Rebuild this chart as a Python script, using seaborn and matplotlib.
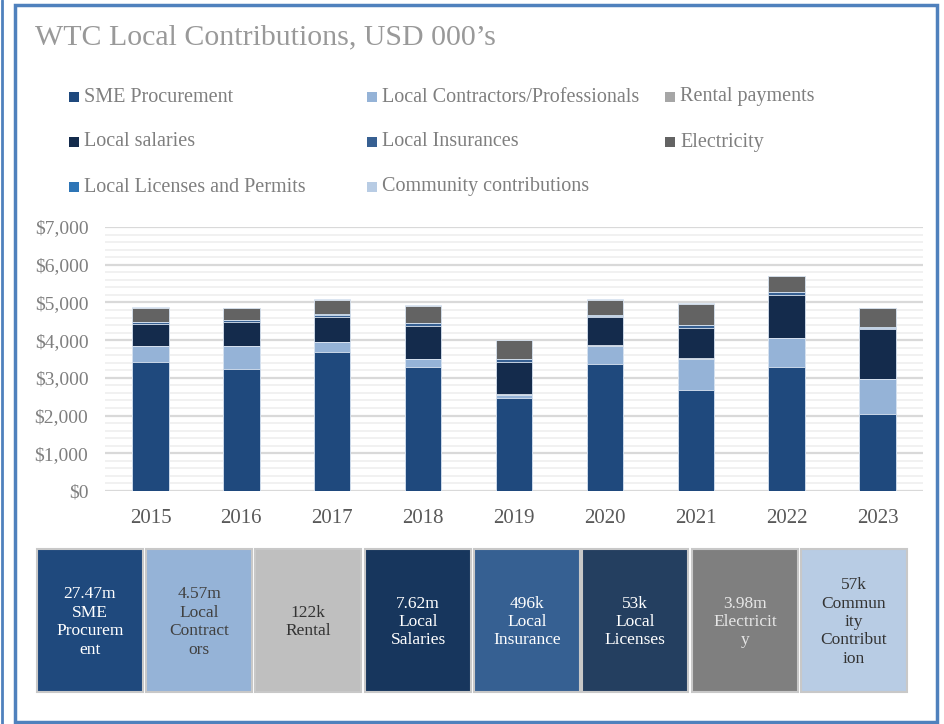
import numpy as np
import pandas as pd
import matplotlib
matplotlib.use("Agg")
import matplotlib.pyplot as plt
from matplotlib.patches import Rectangle
from matplotlib.ticker import MultipleLocator, FuncFormatter
import seaborn as sns

# ---------------- data (USD 000's) ----------------
years = ["2015", "2016", "2017", "2018", "2019", "2020", "2021", "2022", "2023"]
sme_procurement = [3410, 3230, 3680, 3300, 2470, 3370, 2680, 3280, 2050]
local_contractors = [430, 610, 260, 200, 80, 480, 830, 770, 910]
rental_payments = [15, 10, 10, 10, 10, 20, 20, 17, 10]
local_salaries = [575, 640, 665, 870, 870, 740, 800, 1140, 1320]
local_insurances = [50, 40, 60, 65, 65, 40, 75, 60, 41]
local_licenses = [6, 6, 6, 6, 6, 6, 6, 6, 5]
electricity = [375, 320, 395, 465, 510, 415, 560, 420, 520]
community = [5, 5, 5, 5, 5, 20, 4, 4, 4]

series_names = ["SME Procurement", "Local Contractors/Professionals", "Rental payments",
                "Local salaries", "Local Insurances", "Local Licenses and Permits",
                "Electricity", "Community contributions"]
series_colors = ["#1F497D", "#95B3D7", "#A6A6A6", "#142B4C",
                 "#376092", "#2E75B6", "#636363", "#B8CCE4"]

box_labels = ["27.47m\nSME\nProcurem\nent", "4.57m\nLocal\nContract\nors", "122k\nRental",
              "7.62m\nLocal\nSalaries", "496k\nLocal\nInsurance", "53k\nLocal\nLicenses",
              "3.98m\nElectricit\ny", "57k\nCommun\nity\nContribut\nion"]
box_colors = ["#1F497D", "#95B3D7", "#BFBFBF", "#17365D", "#366092", "#243F60", "#7F7F7F", "#B8CCE4"]
box_text_colors = ["white", "#404040", "#333333", "white", "white", "white", "#E6E6E6", "#333333"]

# ---------------- setup ----------------
sns.set_theme(style="white")
plt.rcParams['font.family'] = ['Liberation Serif', 'DejaVu Serif']

W, H = 944, 724
fig = plt.figure(figsize=(W / 100, H / 100), dpi=100)
fig.patch.set_facecolor("white")


def fx(px):
    return px / W


def fy(py):
    return 1 - py / H


# outer frame
fig.add_artist(Rectangle((fx(15), fy(722)), fx(922), (722 - 5) / H, transform=fig.transFigure,
                         fill=False, edgecolor="#4F81BD", linewidth=2.5))
fig.add_artist(plt.Line2D([fx(1.5), fx(1.5)], [0, 1], transform=fig.transFigure,
                          color="#4F81BD", linewidth=2))

fig.text(fx(35), fy(37), "WTC Local Contributions, USD 000\u2019s", fontsize=21.5,
         color="#999999", va="center", ha="left")

# legend (3 columns laid out by hand)
leg_cols = [69, 367, 665]
leg_rows = [97, 142, 187]
leg_order = [0, 3, 5, 1, 4, 7, 2, 6]
for k, idx in enumerate(leg_order):
    col, row = k // 3, k % 3
    x0, y0 = leg_cols[col], leg_rows[row]
    fig.add_artist(Rectangle((fx(x0), fy(y0 + 5)), fx(10), 10 / H, transform=fig.transFigure,
                             facecolor=series_colors[idx], edgecolor="none"))
    fig.text(fx(x0 + 15), fy(y0), series_names[idx], fontsize=14.5, color="#7F7F7F",
             va="center", ha="left")

# ---------------- stacked bars ----------------
ax = fig.add_axes([fx(105), fy(491), fx(818), 264 / H])
layers = np.array([sme_procurement, local_contractors, rental_payments, local_salaries,
                   local_insurances, local_licenses, electricity, community])
cum = layers.cumsum(axis=0)
# draw tallest cumulative first, then cover with lower ones
for i in range(len(series_names) - 1, -1, -1):
    df = pd.DataFrame({"year": years, "value": cum[i]})
    sns.barplot(data=df, x="year", y="value", color=series_colors[i], width=0.4,
                edgecolor="#DCE6F2", linewidth=0.6, errorbar=None, saturation=1, ax=ax)

ax.set_ylim(0, 7000)
ax.set_xlim(-0.5, 8.5)
ax.yaxis.set_major_locator(MultipleLocator(1000))
ax.yaxis.set_minor_locator(MultipleLocator(200))
ax.yaxis.set_major_formatter(FuncFormatter(lambda v, p: "${:,.0f}".format(v)))
ax.grid(which="minor", axis="y", color="#F0F0F0", linewidth=1.3)
ax.grid(which="major", axis="y", color="#D9D9D9", linewidth=1.6)
ax.set_axisbelow(True)
for s in ax.spines.values():
    s.set_visible(False)
ax.tick_params(axis="both", which="both", length=0)
ax.tick_params(axis="y", labelsize=14, labelcolor="#7F7F7F", pad=12)
ax.tick_params(axis="x", labelsize=15, labelcolor="#595959", pad=13)
ax.set_xlabel("")
ax.set_ylabel("")

# ---------------- summary boxes ----------------
box_x = [37, 146, 255, 365, 474, 582, 692, 801]
for x0, lab, bc, tc in zip(box_x, box_labels, box_colors, box_text_colors):
    fig.add_artist(Rectangle((fx(x0), fy(692)), fx(106), (692 - 549) / H, transform=fig.transFigure,
                             facecolor=bc, edgecolor="#C8C8C8", linewidth=1.5))
    fig.text(fx(x0 + 53), fy(622), lab, fontsize=12.5, color=tc, ha="center", va="center",
             linespacing=1.2)

fig.savefig("out.png", dpi=100, facecolor="white")
